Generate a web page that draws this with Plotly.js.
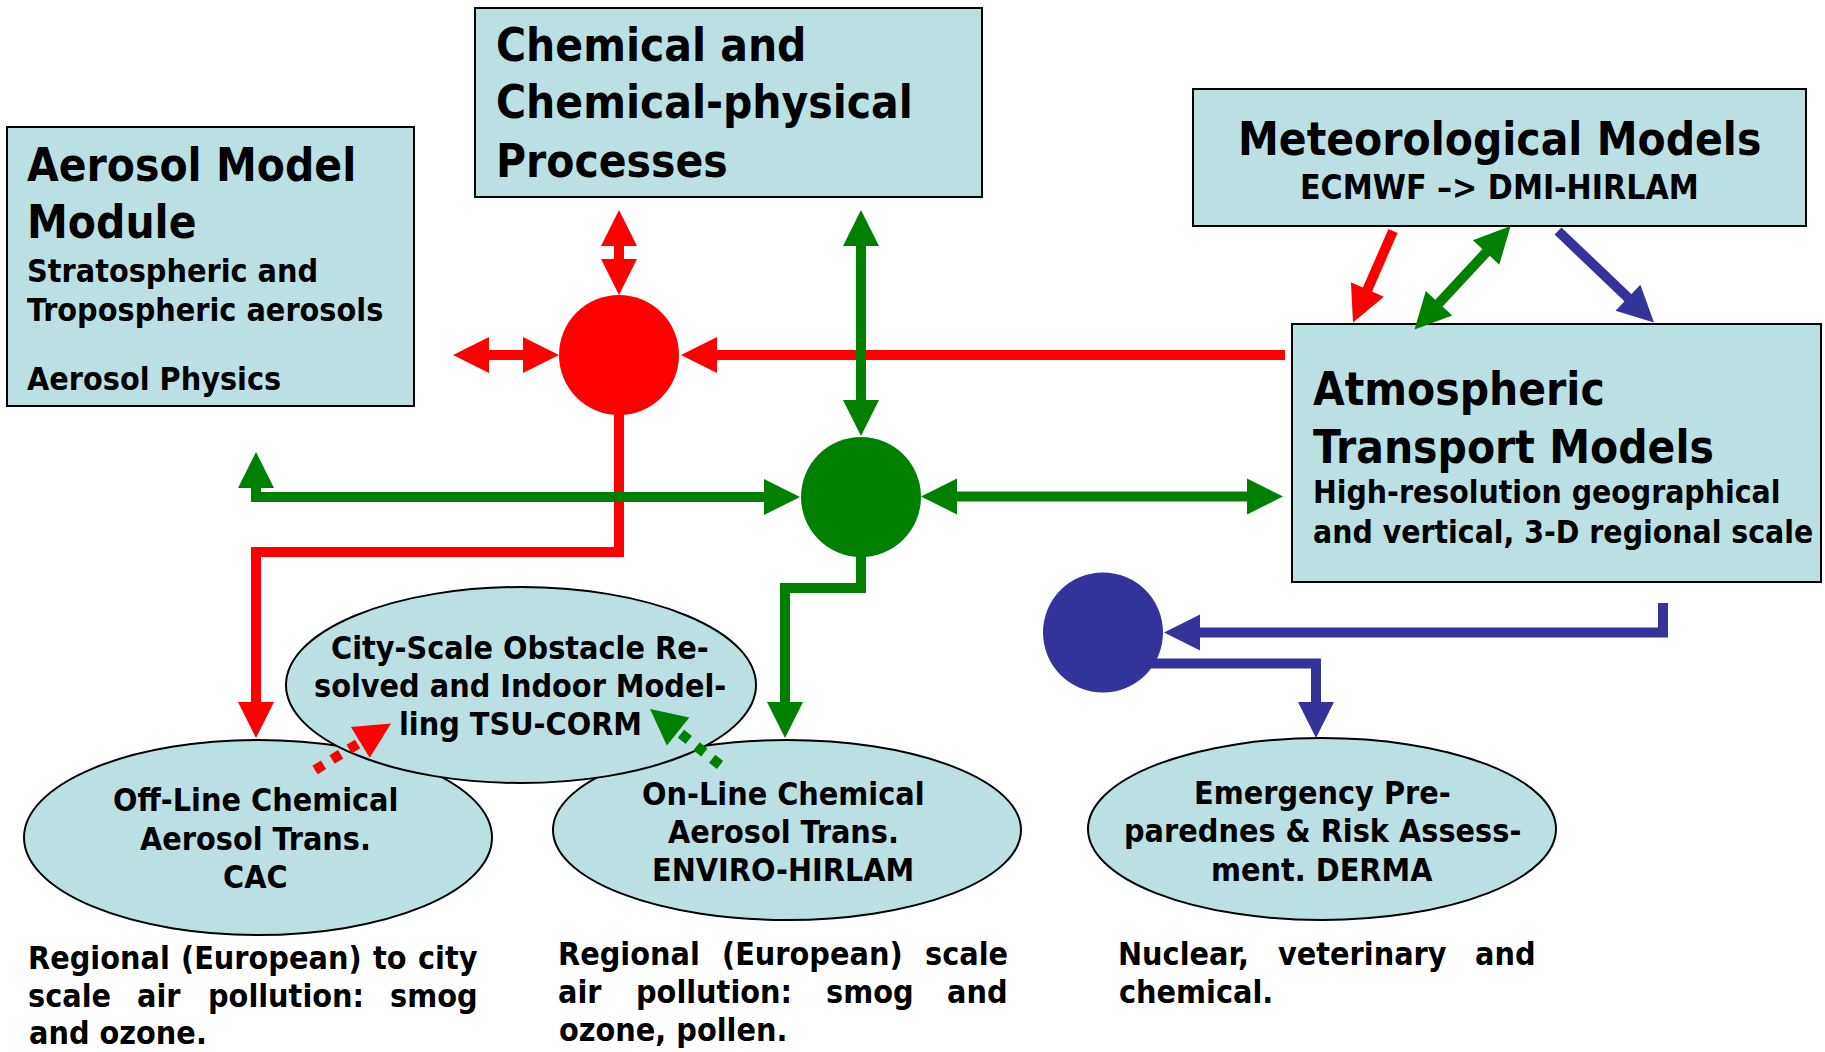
<!DOCTYPE html>
<html>
<head>
<meta charset="utf-8">
<script src="https://cdn.plot.ly/plotly-3.0.1.min.js"></script>
<style>
html,body{margin:0;padding:0;background:#fff;overflow:hidden}
#chart{width:1825px;height:1052px}
</style>
</head>
<body>
<div id="chart"></div>
<script>
// ---------------- content (texts of the diagram) ----------------
const aerosolLines   = ["Aerosol Model", "Module", "Stratospheric and", "Tropospheric aerosols", "Aerosol Physics"];
const chemicalLines  = ["Chemical and", "Chemical-physical", "Processes"];
const meteoLines     = ["Meteorological Models", "ECMWF \u2013> DMI-HIRLAM"];
const atmosLines     = ["Atmospheric", "Transport Models", "High-resolution geographical", "and vertical, 3-D regional scale"];
const cityLines      = ["City-Scale Obstacle Re-", "solved and Indoor Model-", "ling TSU-CORM"];
const offlineLines   = ["Off-Line Chemical", "Aerosol Trans.", "CAC"];
const onlineLines    = ["On-Line Chemical", "Aerosol Trans.", "ENVIRO-HIRLAM"];
const emergencyLines = ["Emergency Pre-", "parednes & Risk Assess-", "ment. DERMA"];
const noteOffline    = ["Regional (European) to city", "scale air pollution: smog", "and ozone."];
const noteOnline     = ["Regional (European) scale", "air pollution: smog and", "ozone, pollen."];
const noteEmergency  = ["Nuclear, veterinary and", "chemical."];

// ---------------- style ----------------
const RED = '#ff0000', GREEN = '#008000', BLUE = '#333399', FILL = '#bbe0e3';
const LW = 10, HEAD_L = 36, HEAD_W = 18;

function fontAvailable(name) {
  const ctx = document.createElement('canvas').getContext('2d');
  const s = 'Hamburgefonstiv 0123 WMQ';
  ctx.font = 'bold 40px monospace';
  const a = ctx.measureText(s).width;
  ctx.font = 'bold 40px "' + name + '", monospace';
  const b = ctx.measureText(s).width;
  return Math.abs(a - b) > 0.5;
}
let FAMILY, BIG, SMALL, MID, ATM;
if (fontAvailable('DejaVu Sans Condensed')) { FAMILY = 'DejaVu Sans Condensed'; BIG = 45.6; SMALL = 32; MID = 33.5; ATM = 31.6; }
else { FAMILY = 'Liberation Sans'; BIG = 47; SMALL = 33; MID = 35; ATM = 32.6; }

const measCtx = document.createElement('canvas').getContext('2d');
function textWidth(t, size) {
  measCtx.font = 'bold ' + size + 'px "' + FAMILY + '"';
  return measCtx.measureText(t).width;
}

// ---------------- shapes ----------------
const shapes = [];
function rect(x0, y0, x1, y1) {
  shapes.push({type: 'rect', xref: 'x', yref: 'y', x0, y0, x1, y1,
    fillcolor: FILL, line: {color: '#000', width: 2}});
}
function ellipse(cx, cy, rx, ry, fill, lineColor, lw) {
  shapes.push({type: 'circle', xref: 'x', yref: 'y',
    x0: cx - rx, x1: cx + rx, y0: cy - ry, y1: cy + ry,
    fillcolor: fill, line: {color: lineColor, width: lw}});
}
function poly(pts, color, dash) {
  const d = pts.map((p, i) => (i ? 'L' : 'M') + p[0] + ',' + p[1]).join(' ');
  shapes.push({type: 'path', xref: 'x', yref: 'y', path: d,
    fillcolor: 'rgba(0,0,0,0)', line: {color, width: LW, dash: dash || 'solid'}});
}
function unit(ax, ay, bx, by) {
  const dx = bx - ax, dy = by - ay, l = Math.hypot(dx, dy);
  return [dx / l, dy / l];
}
function head(tx, ty, fx, fy, color) {
  const u = unit(fx, fy, tx, ty);
  const bx = tx - HEAD_L * u[0], by = ty - HEAD_L * u[1];
  const px = -u[1] * HEAD_W, py = u[0] * HEAD_W;
  shapes.push({type: 'path', xref: 'x', yref: 'y',
    path: 'M' + tx + ',' + ty + ' L' + (bx + px) + ',' + (by + py) + ' L' + (bx - px) + ',' + (by - py) + ' Z',
    fillcolor: color, line: {width: 0}});
  return [bx, by];
}
function arrow(sx, sy, tx, ty, color, dash) {
  const u = unit(sx, sy, tx, ty);
  const bx = tx - (HEAD_L - 1) * u[0], by = ty - (HEAD_L - 1) * u[1];
  poly([[sx, sy], [bx, by]], color, dash);
  head(tx, ty, sx, sy, color);
}
function darrow(ax, ay, bx, by, color) {
  const u = unit(ax, ay, bx, by);
  poly([[ax + (HEAD_L - 1) * u[0], ay + (HEAD_L - 1) * u[1]],
        [bx - (HEAD_L - 1) * u[0], by - (HEAD_L - 1) * u[1]]], color);
  head(ax, ay, bx, by, color);
  head(bx, by, ax, ay, color);
}

// boxes
rect(7, 127, 414, 406);
rect(475, 8, 982, 197);
rect(1193, 89, 1806, 226);
rect(1292, 324, 1821, 582);

// ellipses (city on top)
ellipse(258, 837.5, 234, 97.5, FILL, '#000', 2);
ellipse(787, 830, 234, 90, FILL, '#000', 2);
ellipse(521, 685, 235, 98, FILL, '#000', 2);
ellipse(1322, 829, 234, 91, FILL, '#000', 2);

// ----- red -----
arrow(1285, 355, 681, 355, RED);
darrow(619, 210, 619, 295, RED);
darrow(453, 355, 559, 355, RED);
poly([[619, 414], [619, 552], [256, 552], [256, 704]], RED);
head(256, 738, 256, 600, RED);
arrow(1393, 231, 1353, 322.5, RED);
ellipse(619, 355, 60, 60, RED, RED, 0);
arrow(315, 770, 391, 723.5, RED, 'dot');

// ----- green -----
darrow(861, 210, 861, 436, GREEN);
poly([[766, 497], [256, 497], [256, 486]], GREEN);
head(800, 497, 700, 497, GREEN);
head(256, 452, 256, 500, GREEN);
darrow(921, 496.5, 1283, 496.5, GREEN);
poly([[861, 556], [861, 588], [785, 588], [785, 704]], GREEN);
head(785, 738, 785, 650, GREEN);
darrow(1510.6, 226, 1414.5, 329.6, GREEN);
ellipse(861, 497, 60, 60, GREEN, GREEN, 0);
arrow(720, 765, 650, 709, GREEN, 'dot');

// ----- blue -----
arrow(1558, 231, 1654, 322.5, BLUE);
poly([[1663, 603], [1663, 632.5], [1197, 632.5]], BLUE);
head(1164, 632.5, 1300, 632.5, BLUE);
poly([[1150, 663.5], [1316, 663.5], [1316, 704]], BLUE);
head(1316, 738, 1316, 650, BLUE);
ellipse(1103, 632.5, 60, 60, BLUE, BLUE, 0);

// ---------------- annotations ----------------
const annotations = [];
function label(text, x, y, size, anchor) {
  annotations.push({text, x, y, xref: 'x', yref: 'y', xanchor: anchor || 'center', yanchor: 'middle',
    showarrow: false, font: {family: FAMILY, size, color: '#000', weight: 'bold'}, borderpad: 0});
}
function block(lines, x, ys, sizes, anchor) {
  lines.forEach((t, i) => label(t, x, ys[i], sizes[i], anchor));
}
function paragraph(lines, left, right, ys, size) {
  lines.forEach((line, i) => {
    const words = line.split(' ');
    const last = i === lines.length - 1;
    if (last || words.length < 2) { label(line, left, ys[i], size, 'left'); return; }
    const ws = words.map(w => textWidth(w, size));
    const gap = (right - left - ws.reduce((a, b) => a + b, 0)) / (words.length - 1);
    let x = left;
    words.forEach((w, k) => { label(w, x + ws[k] / 2, ys[i], size, 'center'); x += ws[k] + gap; });
  });
}

block(aerosolLines, 26, [165, 222, 271, 310, 379], [BIG, BIG, SMALL, SMALL, SMALL], 'left');
block(chemicalLines, 495, [45, 102.5, 161], [BIG, BIG, BIG], 'left');
block(meteoLines, 1499, [139, 187], [BIG, MID], 'center');
block(atmosLines, 1312, [389, 447, 492, 532], [BIG, BIG, ATM, ATM], 'left');
block(cityLines, 520, [648, 686, 724], [SMALL, SMALL, SMALL], 'center');
block(offlineLines, 255, [800, 839, 877], [SMALL, SMALL, SMALL], 'center');
block(onlineLines, 783, [794, 832, 870], [SMALL, SMALL, SMALL], 'center');
block(emergencyLines, 1322, [793, 831, 870], [SMALL, SMALL, SMALL], 'center');
paragraph(noteOffline, 28, 478, [958, 995.5, 1033], SMALL);
paragraph(noteOnline, 558, 1008, [954, 992, 1030], SMALL);
paragraph(noteEmergency, 1118, 1536, [954, 992], SMALL);

const layout = {
  width: 1825, height: 1052,
  margin: {l: 0, r: 0, t: 0, b: 0, pad: 0},
  paper_bgcolor: '#ffffff', plot_bgcolor: '#ffffff',
  showlegend: false,
  xaxis: {range: [0, 1825], visible: false, fixedrange: true},
  yaxis: {range: [1052, 0], visible: false, fixedrange: true},
  shapes, annotations
};
Plotly.newPlot('chart', [], layout, {displayModeBar: false, staticPlot: true});
</script>
</body>
</html>
